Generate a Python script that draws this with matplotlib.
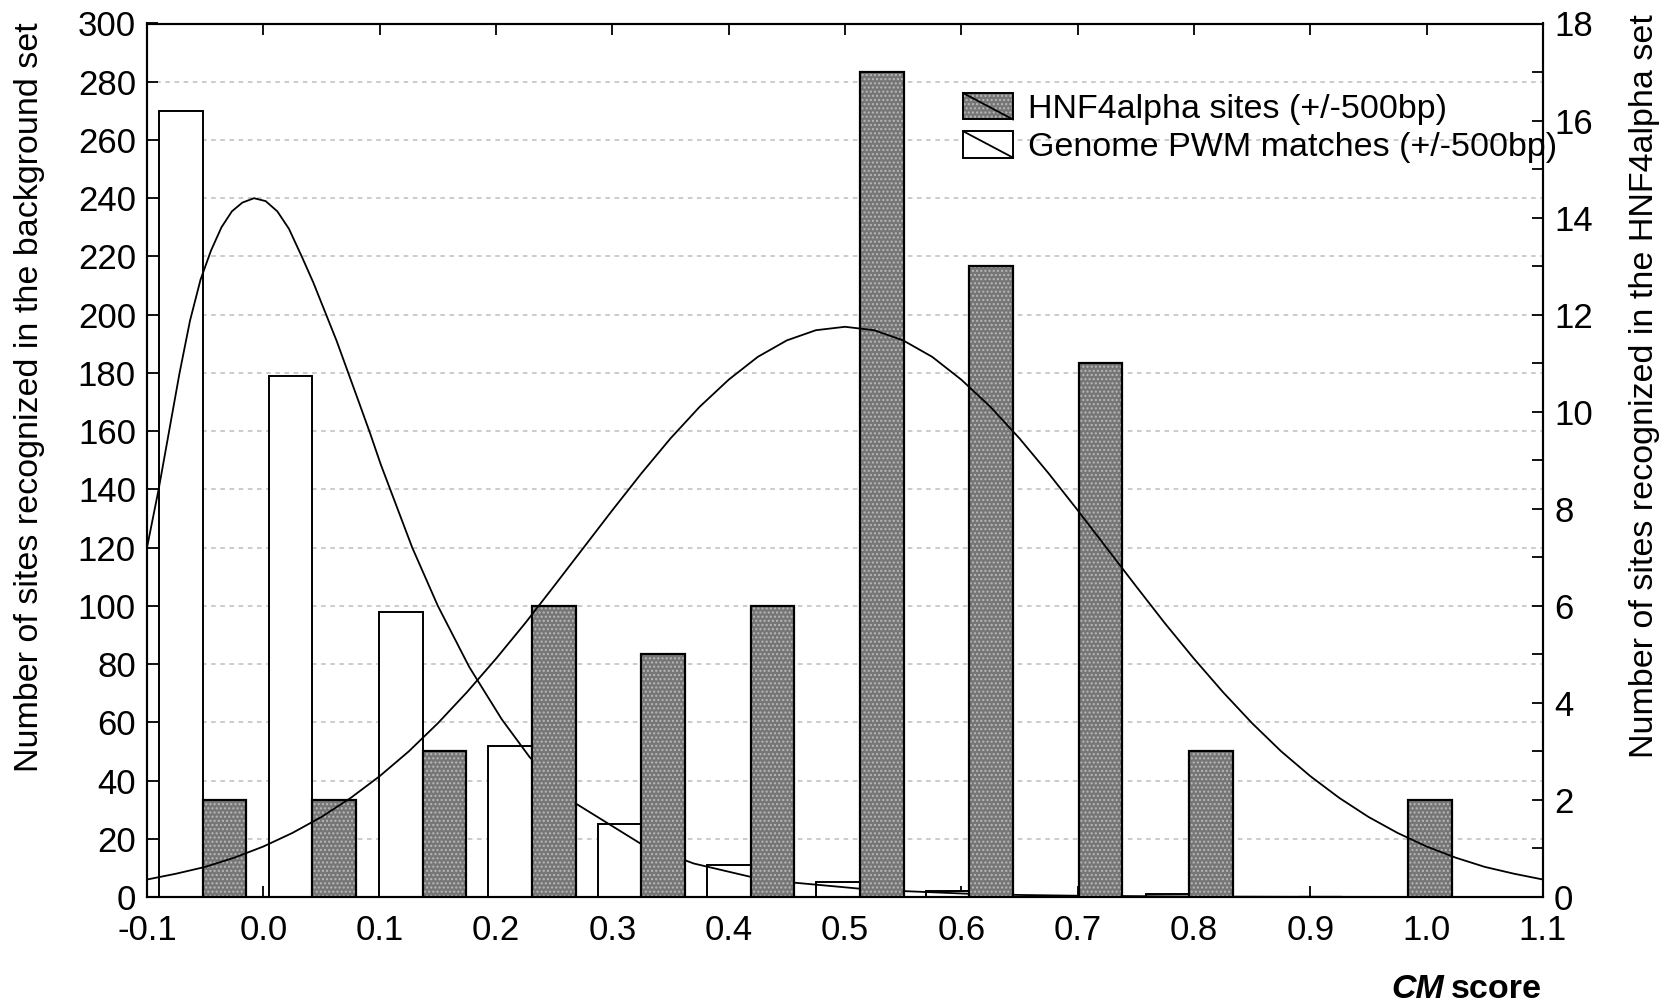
import matplotlib
matplotlib.use("Agg")
import matplotlib.pyplot as plt
from matplotlib.patches import Rectangle
from matplotlib.lines import Line2D
from matplotlib.legend_handler import HandlerBase
from matplotlib.ticker import MultipleLocator

plt.rcParams["font.family"] = ["Liberation Sans", "DejaVu Sans"]
plt.rcParams["hatch.linewidth"] = 1.0

# ---------------- data ----------------
bin_centers = [-0.052, 0.042, 0.137, 0.231, 0.325, 0.419, 0.513, 0.607, 0.701, 0.796, 0.890, 0.984]
genome_counts = [270, 179, 98, 52, 25, 11, 5, 2, 0.5, 1, 0, 0]          # left axis
hnf4_counts = [2, 2, 3, 6, 5, 6, 17, 13, 11, 3, 0, 2]                   # right axis

genome_fit_x = [-0.100, -0.090, -0.081, -0.072, -0.063, -0.054, -0.045, -0.036, -0.027, -0.018,
                -0.008, 0.002, 0.012, 0.022, 0.033, 0.043, 0.053, 0.063, 0.073, 0.083, 0.092,
                0.101, 0.110, 0.128, 0.150, 0.177, 0.205, 0.229, 0.269, 0.324, 0.370, 0.418,
                0.457, 0.513, 0.552, 0.607, 0.650, 0.700, 0.800, 0.900, 1.000, 1.100]
genome_fit_y = [120, 140, 160, 180, 198, 212, 222, 230, 235.5, 238.5,
                240, 239, 235.5, 229.5, 220, 211, 201, 191, 180, 169, 159,
                148.5, 139, 120, 100, 79, 61, 48, 32, 18.4, 11.5, 7.0,
                4.9, 2.85, 2.0, 1.1, 0.7, 0.43, 0.16, 0.06, 0.02, 0.01]

hnf4_fit_x = [-0.100, -0.075, -0.050, -0.025, 0.000, 0.025, 0.050, 0.075, 0.100, 0.125,
              0.150, 0.175, 0.200, 0.225, 0.250, 0.275, 0.300, 0.325, 0.350, 0.375,
              0.400, 0.425, 0.450, 0.475, 0.500, 0.525, 0.550, 0.575, 0.600, 0.625,
              0.650, 0.675, 0.700, 0.725, 0.750, 0.775, 0.800, 0.825, 0.850, 0.875,
              0.900, 0.925, 0.950, 0.975, 1.000, 1.025, 1.050, 1.075, 1.100]
hnf4_fit_y = [0.36, 0.48, 0.62, 0.81, 1.04, 1.32, 1.65, 2.04, 2.49, 3.00,
              3.58, 4.22, 4.91, 5.64, 6.41, 7.19, 7.97, 8.73, 9.45, 10.10,
              10.66, 11.13, 11.47, 11.68, 11.75, 11.68, 11.47, 11.13, 10.66, 10.10,
              9.45, 8.73, 7.97, 7.19, 6.41, 5.64, 4.91, 4.22, 3.58, 3.00,
              2.49, 2.04, 1.65, 1.32, 1.04, 0.81, 0.62, 0.48, 0.36]

x_ticks = [-0.1, 0.0, 0.1, 0.2, 0.3, 0.4, 0.5, 0.6, 0.7, 0.8, 0.9, 1.0, 1.1]
x_tick_labels = ["-0.1", "0.0", "0.1", "0.2", "0.3", "0.4", "0.5", "0.6", "0.7", "0.8", "0.9", "1.0", "1.1"]
left_ticks = [0, 20, 40, 60, 80, 100, 120, 140, 160, 180, 200, 220, 240, 260, 280, 300]
right_ticks = [0, 2, 4, 6, 8, 10, 12, 14, 16, 18]

legend_labels = ["HNF4alpha sites (+/-500bp)", "Genome PWM matches (+/-500bp)"]
left_label = "Number of sites recognized in the background set"
right_label = "Number of sites recognized in the HNF4alpha set"

# ---------------- style ----------------
W, H = 1674, 1008
FS = 24.5
TFS = 25
GREY = "#767676"
DOTS = "#b9b9b9"
bar_w = 0.0375

fig = plt.figure(figsize=(W / 100, H / 100), dpi=100)
ax = fig.add_axes([147 / W, 1 - 897 / H, (1543 - 147) / W, (897 - 23.5) / H])
ax2 = ax.twinx()

# grid on left axis
for v in left_ticks[1:-1]:
    ax.axhline(v, color="#bdbdbd", lw=1.1, ls=(0, (3, 3)), zorder=0)

# white bars (genome) on left axis
white_x = [c - bar_w / 2 for c in bin_centers]
ax.bar(white_x, genome_counts, width=bar_w, facecolor="white", edgecolor="black", lw=1.4, zorder=2)
ax.plot(genome_fit_x, genome_fit_y, color="black", lw=1.3, zorder=3)

# grey stippled bars (HNF4alpha) on right axis
grey_x = [c + bar_w / 2 for c in bin_centers]
ax2.bar(grey_x, hnf4_counts, width=bar_w, facecolor=GREY, edgecolor=DOTS, hatch="....", lw=0, zorder=2)
ax2.bar(grey_x, hnf4_counts, width=bar_w, fill=False, edgecolor="black", lw=1.6, zorder=2.1)
ax2.plot(hnf4_fit_x, hnf4_fit_y, color="black", lw=1.3, zorder=3)

ax.set_xlim(-0.1, 1.1)
ax.set_ylim(0, 300)
ax2.set_ylim(0, 18)

ax.set_xticks(x_ticks)
ax.set_xticklabels(x_tick_labels)
ax.set_yticks(left_ticks)
ax2.set_yticks(right_ticks)
ax2.yaxis.set_minor_locator(MultipleLocator(1))

ax.tick_params(axis="both", which="both", direction="in", length=8, width=1.3, labelsize=TFS, pad=8)
ax.tick_params(axis="x", top=True, pad=12)
ax2.tick_params(axis="y", which="both", direction="in", length=8, width=1.3, labelsize=TFS, pad=8)

for a in (ax, ax2):
    for s in a.spines.values():
        s.set_linewidth(1.5)

# axis labels
fig.text(30 / W, 1 - 397 / H, left_label, rotation=90, ha="center", va="center", fontsize=FS)
fig.text(1645 / W, 1 - 386 / H, right_label, rotation=90, ha="center", va="center", fontsize=FS)

# legend
class Key:
    def __init__(self, face, hatch):
        self.face = face
        self.hatch = hatch


class KeyHandler(HandlerBase):
    def create_artists(self, legend, orig_handle, xdescent, ydescent, width, height, fontsize, trans):
        x0, y0 = -xdescent, -ydescent
        arts = []
        if orig_handle.hatch:
            arts.append(Rectangle((x0, y0), width, height, facecolor=orig_handle.face, edgecolor=DOTS,
                                  hatch=orig_handle.hatch, lw=0, transform=trans))
        else:
            arts.append(Rectangle((x0, y0), width, height, facecolor=orig_handle.face, lw=0, transform=trans))
        arts.append(Rectangle((x0, y0), width, height, fill=False, edgecolor="black", lw=1.4, transform=trans))
        arts.append(Line2D([x0, x0 + width], [y0 + height, y0], color="black", lw=1.3, transform=trans))
        return arts


handles = [Key(GREY, "...."), Key("white", None)]
leg = ax2.legend(handles, legend_labels, handler_map={Key: KeyHandler()},
                 loc="upper left", bbox_to_anchor=(963 / W, 1 - 93 / H), bbox_transform=fig.transFigure,
                 frameon=False, fontsize=FS, handlelength=1.47, handleheight=0.82,
                 handletextpad=0.44, labelspacing=0.18, borderpad=0, borderaxespad=0)
leg.set_zorder(10)

# x label "CM score"
t_score = fig.text(1542 / W, 1 - 990 / H, "score", ha="right", va="center", fontsize=FS, fontweight="bold")
fig.canvas.draw()
bb = t_score.get_window_extent()
fig.text((bb.x0 - 7) / W, 1 - 990 / H, "CM", ha="right", va="center", fontsize=FS,
         fontweight="bold", fontstyle="italic")

fig.savefig("out.png", dpi=100)
